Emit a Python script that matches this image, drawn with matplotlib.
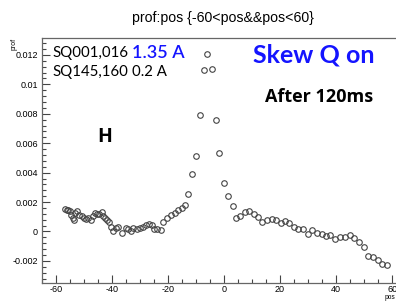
import matplotlib
matplotlib.use('Agg')
import matplotlib.pyplot as plt
from matplotlib.ticker import MultipleLocator, FuncFormatter

# ----------------------------------------------------------------------
# profile

pos = [-56.8, -56.2, -55.6, -55.0, -54.6, -54.0, -53.6, -53.2, -52.4, -51.7,
       -50.8, -50.0, -49.3, -48.5, -47.6, -46.7, -46.1, -45.3, -44.5, -43.7,
       -43.1, -42.5, -41.7, -41.0, -40.5, -39.5, -38.6, -37.7, -36.4, -35.0,
       -34.2, -33.3, -32.4, -31.0, -30.0, -29.0, -27.9, -26.7, -25.8, -25.0,
       -24.0, -22.6, -21.7, -20.4, -18.9, -17.5, -16.3, -15.0, -13.9, -12.8,
       -11.3, -10.0, -8.7, -7.0, -6.1, -4.4, -2.9, -1.7, 0.0, 1.4,
       3.1, 4.3, 5.7, 7.5, 9.0, 10.6, 12.0, 13.7, 15.4, 17.0,
       18.6, 20.2, 21.8, 23.3, 25.0, 26.5, 28.3, 29.9, 31.5, 33.1,
       34.8, 36.3, 38.0, 39.6, 41.4, 43.2, 45.0, 46.5, 48.3, 49.9,
       51.3, 53.1, 54.8, 56.5, 58.2]

prof = [0.00150, 0.00145, 0.00149, 0.00142, 0.00115, 0.00093, 0.00075, 0.00127, 0.00138, 0.00115,
        0.00104, 0.00093, 0.00086, 0.00093, 0.00081, 0.00104, 0.00127, 0.00122, 0.00122, 0.00131,
        0.00108, 0.00093, 0.00081, 0.00063, 0.00032, 0.00002, 0.00025, 0.00032, -0.00010, 0.00027,
        0.00014, 0.00002, 0.00022, 0.00014, 0.00025, 0.00032, 0.00041, 0.00054, 0.00041, 0.00018,
        0.00018, 0.00007, 0.00063, 0.00093, 0.00110, 0.00127, 0.00144, 0.00160, 0.00183, 0.00253,
        0.00392, 0.00516, 0.00793, 0.01100, 0.01207, 0.01105, 0.00755, 0.00533, 0.00330, 0.00240,
        0.00172, 0.00093, 0.00104, 0.00131, 0.00142, 0.00122, 0.00100, 0.00063, 0.00075, 0.00086,
        0.00075, 0.00059, 0.00072, 0.00056, 0.00032, 0.00018, 0.00014, -0.00020, 0.00009, -0.00011,
        -0.00020, -0.00029, -0.00027, -0.00050, -0.00036, -0.00036, -0.00027, -0.00045, -0.00070, -0.00104,
        -0.00167, -0.00172, -0.00197, -0.00222, -0.00226]

title = 'prof:pos {-60<pos&&pos<60}'

# ----------------------------------------------------------------------

W, H = 396, 301
fig = plt.figure(figsize=(W/100, H/100), dpi=100)
ax = fig.add_axes([42/W, 18/H, 1 - 42/W, (283-38)/H])

ax.plot(pos, prof, 'o', mfc='none', mec='#444444', ms=4.0, mew=0.8)

ax.set_xlim(-65, 61.4)
ax.set_ylim(-0.0035, 0.01315)

ax.xaxis.set_major_locator(MultipleLocator(20))
ax.xaxis.set_minor_locator(MultipleLocator(5))
ax.yaxis.set_major_locator(MultipleLocator(0.002))
ax.yaxis.set_minor_locator(MultipleLocator(0.0004))
ax.yaxis.set_major_formatter(FuncFormatter(lambda v, _: '%g' % round(v, 6)))
ax.xaxis.set_major_formatter(FuncFormatter(lambda v, _: '%g' % v))

gray = '#666666'
for s in ['left', 'bottom', 'top']:
    ax.spines[s].set_color(gray)
    ax.spines[s].set_linewidth(0.9)
ax.spines['right'].set_visible(False)

ax.tick_params(which='both', direction='in', color='#444444', width=0.8,
               labelsize=6.5, pad=3, top=False, right=False)
ax.tick_params(axis='x', pad=1.5)
ax.tick_params(which='major', length=6)
ax.tick_params(which='minor', length=3.2)
for lab in ax.get_xticklabels() + ax.get_yticklabels():
    lab.set_family('Liberation Sans')

def fx(px):
    return px / W

def fy(py):
    return 1 - py / H

fig.text(fx(223), fy(18), title, ha='center', va='center',
         family='Liberation Sans', fontsize=10.2)
fig.text(fx(11), fy(38), 'prof', rotation=90, ha='left', va='top',
         family='Liberation Sans', fontsize=5)
fig.text(fx(395), fy(301), 'pos', ha='right', va='bottom',
         family='Liberation Sans', fontsize=4.8)

blue = '#1414ff'
fig.text(fx(52), fy(53), 'SQ001,016', ha='left', va='center', family='Lato', fontsize=10.8)
fig.text(fx(132), fy(53), '1.35 A', ha='left', va='center', family='Lato',
         fontsize=13, color=blue, fontweight='semibold')
fig.text(fx(52), fy(72), 'SQ145,160', ha='left', va='center', family='Lato', fontsize=10.8)
fig.text(fx(132), fy(72), '0.2 A', ha='left', va='center', family='Lato', fontsize=10.8)
fig.text(fx(253), fy(55), 'Skew Q on', ha='left', va='center', family='Lato',
         fontweight='bold', fontsize=18, color=blue)
fig.text(fx(265), fy(97), 'After 120ms', ha='left', va='center', family='Open Sans',
         fontweight='bold', fontsize=13)
fig.text(fx(97), fy(137), 'H', ha='left', va='center', family='Open Sans',
         fontweight='bold', fontsize=14)

plt.savefig('out.png', dpi=100)
